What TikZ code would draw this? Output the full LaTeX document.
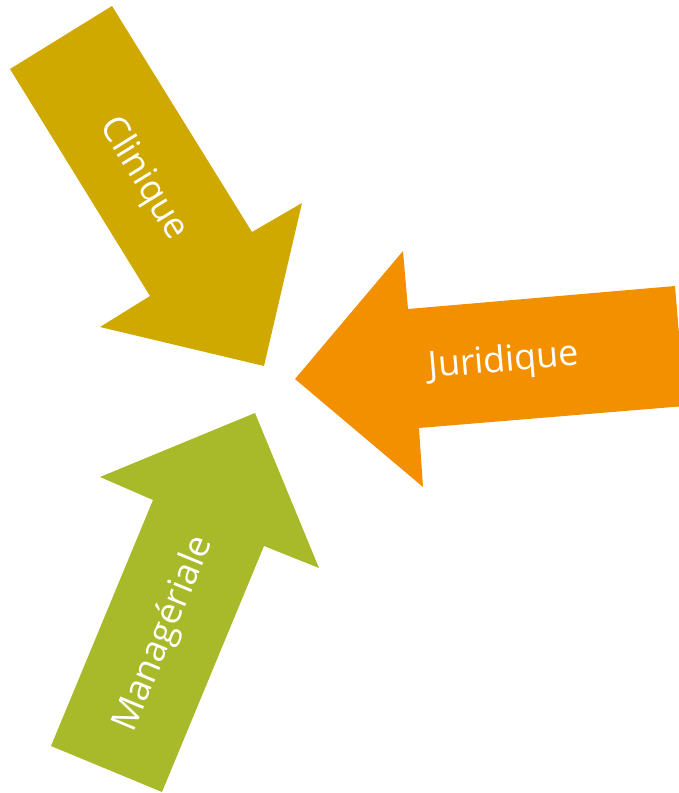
\documentclass[tikz,border=0pt]{standalone}
\usepackage{fontspec}
\setmainfont{Open Sans}
\usepackage{tikz}
\usetikzlibrary{calc}

\definecolor{cliniquegold}{RGB}{208,169,0}
\definecolor{juridiqueorange}{RGB}{243,144,0}
\definecolor{manageriagreen}{RGB}{168,185,42}

\begin{document}
\begin{tikzpicture}[x=1pt,y=-1pt,
				bigarrow/.style={draw=none},
				label/.style={text=white,font=\fontsize{36}{42}\selectfont,inner sep=0pt}
			]
			\useasboundingbox (0,0) rectangle (679,793);
			% Clinique
			\fill[bigarrow,cliniquegold] (10,69) -- (112,6) -- (252,232) -- (302,203)
				-- (264,366) -- (100,327) -- (150,296) -- cycle;
			\node[label,rotate=-58.3] (clinique) at (143,179) {Clinique};
			% Juridique
			\fill[bigarrow,juridiqueorange] (295,379) -- (403,251) -- (408,309) -- (675,286)
				-- (685,406) -- (419,428) -- (423,487) -- cycle;
			\node[label,rotate=4.9] (juridique) at (504,362) {Juridique};
			% Manageriale
			\fill[bigarrow,manageriagreen] (255,413) -- (319,568) -- (264,546) -- (162,792)
				-- (51,746) -- (153,500) -- (100,477) -- cycle;
			\node[label,rotate=67.5] (manageriale) at (164,634) {Managériale};
		\end{tikzpicture}
\end{document}
